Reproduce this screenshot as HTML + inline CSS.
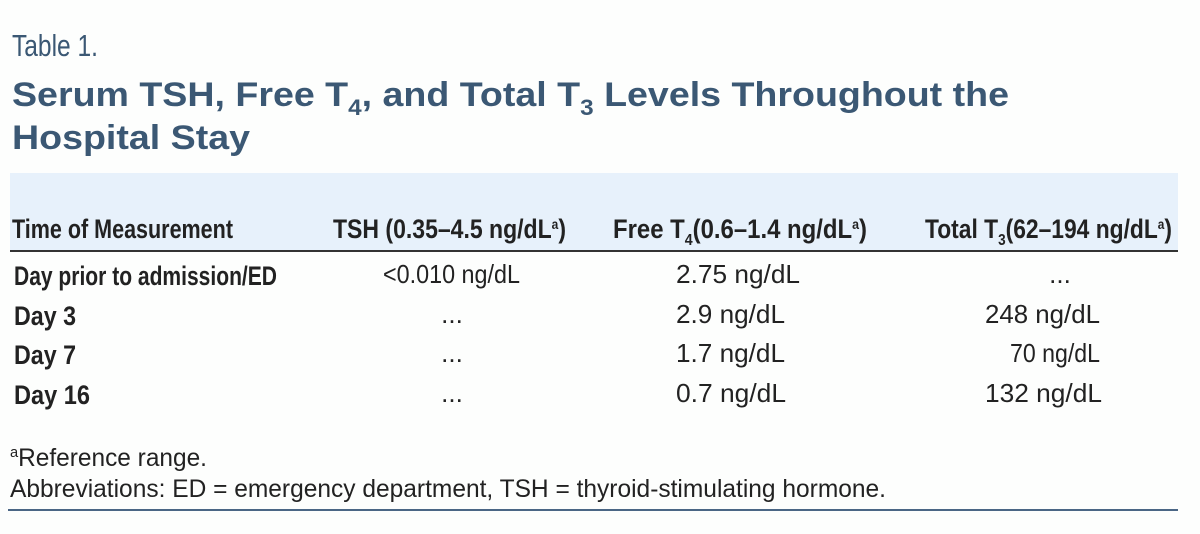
<!DOCTYPE html>
<html><head><meta charset="utf-8"><style>
html,body{margin:0;padding:0;background:#fdfefd;}
svg{display:block;}
</style></head><body>
<svg width="1200" height="534" viewBox="0 0 1200 534" xmlns="http://www.w3.org/2000/svg" font-family="'Liberation Sans Narrow','Liberation Sans',sans-serif">
<rect width="1200" height="534" fill="#fdfefd"/>
<text x="12" y="56" font-size="31" fill="#3b5874" textLength="86" lengthAdjust="spacingAndGlyphs">Table 1.</text>
<g font-family="'Liberation Sans',sans-serif" font-weight="bold" fill="#3b5874" font-size="34">
<text x="12" y="106" textLength="997" lengthAdjust="spacingAndGlyphs">Serum TSH, Free T<tspan font-size="22" dy="9">4</tspan><tspan dy="-9">, and Total T</tspan><tspan font-size="22" dy="9">3</tspan><tspan dy="-9"> Levels Throughout the</tspan></text>
<text x="12" y="149" textLength="238" lengthAdjust="spacingAndGlyphs">Hospital Stay</text>
</g>
<rect x="10" y="173" width="1168" height="78" fill="#e7f1fb"/>
<rect x="10" y="250" width="1168" height="2" fill="#333"/>
<g font-weight="bold" fill="#222" font-size="27">
<text x="12" y="238" textLength="221" lengthAdjust="spacingAndGlyphs">Time of Measurement</text>
<text x="333" y="238" textLength="233" lengthAdjust="spacingAndGlyphs">TSH (0.35–4.5 ng/dL<tspan font-size="14" dy="-9">a</tspan><tspan dy="9">)</tspan></text>
<text x="613" y="238" textLength="254" lengthAdjust="spacingAndGlyphs">Free T<tspan font-size="16" dy="7">4</tspan><tspan dy="-7">(0.6–1.4 ng/dL</tspan><tspan font-size="14" dy="-9">a</tspan><tspan dy="9">)</tspan></text>
<text x="925" y="238" textLength="247" lengthAdjust="spacingAndGlyphs">Total T<tspan font-size="16" dy="7">3</tspan><tspan dy="-7">(62–194 ng/dL</tspan><tspan font-size="14" dy="-9">a</tspan><tspan dy="9">)</tspan></text>
<text x="14" y="285" textLength="263" lengthAdjust="spacingAndGlyphs">Day prior to admission/ED</text>
<text x="14" y="325" textLength="62" lengthAdjust="spacingAndGlyphs">Day 3</text>
<text x="14" y="364" textLength="62" lengthAdjust="spacingAndGlyphs">Day 7</text>
<text x="14" y="404" textLength="76" lengthAdjust="spacingAndGlyphs">Day 16</text>
</g>
<g fill="#222" font-size="26">
<text x="383" y="283" textLength="137" lengthAdjust="spacingAndGlyphs">&lt;0.010 ng/dL</text>
<text x="676" y="283" textLength="124" lengthAdjust="spacingAndGlyphs">2.75 ng/dL</text>
<text x="1060" y="283" text-anchor="middle">...</text>
<text x="452" y="323" text-anchor="middle">...</text>
<text x="676" y="323" textLength="109" lengthAdjust="spacingAndGlyphs">2.9 ng/dL</text>
<text x="985" y="323" textLength="115" lengthAdjust="spacingAndGlyphs">248 ng/dL</text>
<text x="452" y="362" text-anchor="middle">...</text>
<text x="676" y="362" textLength="109" lengthAdjust="spacingAndGlyphs">1.7 ng/dL</text>
<text x="1010" y="362" textLength="90" lengthAdjust="spacingAndGlyphs">70 ng/dL</text>
<text x="452" y="402" text-anchor="middle">...</text>
<text x="676" y="402" textLength="110" lengthAdjust="spacingAndGlyphs">0.7 ng/dL</text>
<text x="985" y="402" textLength="117" lengthAdjust="spacingAndGlyphs">132 ng/dL</text>
</g>
<g fill="#222" font-size="25">
<text x="10" y="466" textLength="197" lengthAdjust="spacingAndGlyphs"><tspan font-size="15" dy="-9">a</tspan><tspan dy="9">Reference range.</tspan></text>
<text x="10" y="497" textLength="876" lengthAdjust="spacingAndGlyphs">Abbreviations: ED = emergency department, TSH = thyroid-stimulating hormone.</text>
</g>
<rect x="8" y="509" width="1170" height="2" fill="#4a6685"/>
</svg>
</body></html>
